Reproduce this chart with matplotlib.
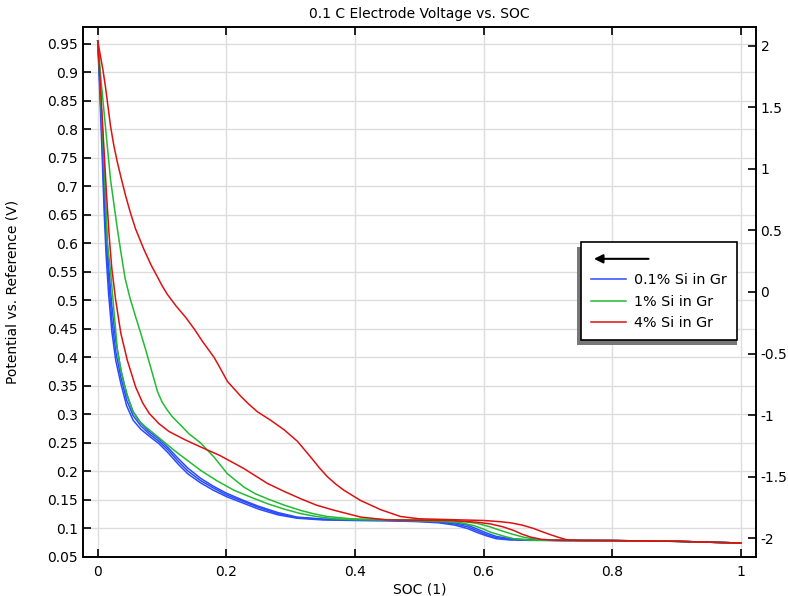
import numpy as np
import matplotlib
matplotlib.use('Agg')
import matplotlib.pyplot as plt
from matplotlib.lines import Line2D
from matplotlib.patches import Rectangle
from matplotlib.ticker import FuncFormatter, MultipleLocator

plt.rcParams['font.family'] = ['DejaVu Sans']
plt.rcParams['font.size'] = 10
plt.rcParams['axes.unicode_minus'] = False

# --- data (SOC, potential V) ---
soc_blue = [0, 0.002, 0.004, 0.007, 0.010, 0.013, 0.017, 0.022, 0.028, 0.036, 0.045, 0.055,
            0.067, 0.08, 0.095, 0.11, 0.125, 0.14, 0.16, 0.18, 0.20, 0.225, 0.25, 0.28, 0.31,
            0.35, 0.40, 0.45, 0.50, 0.53, 0.555, 0.575, 0.59, 0.605, 0.62, 0.64, 0.67, 0.72,
            0.80, 0.90, 1.0]
v_blue1 = [0.955, 0.90, 0.84, 0.75, 0.655, 0.58, 0.51, 0.445, 0.395, 0.354, 0.315, 0.290,
           0.274, 0.262, 0.249, 0.232, 0.213, 0.196, 0.180, 0.167, 0.156, 0.145, 0.134, 0.124,
           0.118, 0.115, 0.114, 0.1135, 0.112, 0.110, 0.106, 0.100, 0.093, 0.087, 0.082, 0.080,
           0.0792, 0.079, 0.0788, 0.0775, 0.0745]
v_blue2 = [0.955, 0.91, 0.86, 0.775, 0.685, 0.61, 0.535, 0.465, 0.41, 0.365, 0.325, 0.298,
           0.280, 0.266, 0.253, 0.237, 0.218, 0.201, 0.184, 0.171, 0.159, 0.148, 0.137, 0.126,
           0.119, 0.116, 0.1145, 0.114, 0.1125, 0.111, 0.108, 0.103, 0.096, 0.089, 0.084, 0.081,
           0.0798, 0.079, 0.0788, 0.0775, 0.0745]
v_blue3 = [0.955, 0.92, 0.875, 0.80, 0.715, 0.64, 0.56, 0.49, 0.43, 0.378, 0.335, 0.305,
           0.285, 0.270, 0.257, 0.241, 0.223, 0.206, 0.188, 0.174, 0.162, 0.150, 0.139, 0.128,
           0.120, 0.1165, 0.115, 0.1145, 0.113, 0.112, 0.110, 0.106, 0.099, 0.092, 0.086, 0.0825,
           0.080, 0.079, 0.0788, 0.0775, 0.0745]

soc_green1 = [0, 0.002, 0.005, 0.0098, 0.015, 0.020, 0.025, 0.0306, 0.036, 0.041, 0.047, 0.054,
              0.063, 0.0747, 0.09, 0.105, 0.12, 0.14, 0.16, 0.185, 0.212, 0.24, 0.264, 0.29,
              0.316, 0.34, 0.3675, 0.40, 0.45, 0.50, 0.54, 0.565, 0.585, 0.60, 0.611, 0.63,
              0.647, 0.673, 0.72, 0.80, 0.90, 1.0]
v_green1 = [0.955, 0.92, 0.85, 0.742, 0.60, 0.55, 0.485, 0.413, 0.378, 0.354, 0.330, 0.307,
            0.29, 0.278, 0.264, 0.250, 0.236, 0.219, 0.202, 0.184, 0.167, 0.154, 0.1435, 0.134,
            0.126, 0.121, 0.117, 0.1155, 0.115, 0.1135, 0.112, 0.110, 0.105, 0.099, 0.0935, 0.087,
            0.082, 0.0795, 0.079, 0.0788, 0.0775, 0.0745]

soc_green2 = [0, 0.002, 0.005, 0.0124, 0.020, 0.0306, 0.036, 0.0425, 0.05, 0.059, 0.067, 0.0747,
              0.084, 0.093, 0.100, 0.108, 0.116, 0.13, 0.142, 0.16, 0.181, 0.2017, 0.2275, 0.245,
              0.264, 0.29, 0.316, 0.335, 0.357, 0.3935, 0.45, 0.50, 0.54, 0.57, 0.59, 0.61,
              0.625, 0.645, 0.665, 0.69, 0.72, 0.80, 0.90, 1.0]
v_green2 = [0.955, 0.93, 0.888, 0.80, 0.711, 0.625, 0.585, 0.539, 0.505, 0.471, 0.442, 0.413,
            0.376, 0.340, 0.322, 0.308, 0.296, 0.280, 0.266, 0.250, 0.225, 0.196, 0.1725, 0.161,
            0.152, 0.141, 0.1316, 0.126, 0.121, 0.117, 0.1155, 0.115, 0.1135, 0.112, 0.109, 0.103,
            0.097, 0.090, 0.084, 0.080, 0.079, 0.0788, 0.0775, 0.0745]

soc_red1 = [0, 0.003, 0.006, 0.010, 0.014, 0.018, 0.022, 0.028, 0.036, 0.046, 0.059, 0.07,
            0.080, 0.095, 0.111, 0.135, 0.160, 0.19, 0.2275, 0.264, 0.29, 0.316, 0.34, 0.3675,
            0.409, 0.45, 0.50, 0.55, 0.59, 0.611, 0.63, 0.647, 0.66, 0.673, 0.69, 0.709, 0.75,
            0.80, 0.90, 1.0]
v_red1 = [0.955, 0.90, 0.84, 0.76, 0.68, 0.61, 0.555, 0.50, 0.442, 0.395, 0.348, 0.32,
          0.302, 0.284, 0.270, 0.256, 0.243, 0.228, 0.205, 0.179, 0.165, 0.152, 0.141, 0.132,
          0.12, 0.115, 0.1145, 0.114, 0.111, 0.108, 0.103, 0.0965, 0.090, 0.085, 0.081, 0.0795,
          0.079, 0.0788, 0.0775, 0.0745]

soc_red2 = [0, 0.004, 0.008, 0.012, 0.016, 0.020, 0.025, 0.0306, 0.037, 0.0435, 0.051, 0.059,
            0.072, 0.083, 0.093, 0.100, 0.108, 0.122, 0.137, 0.15, 0.163, 0.181, 0.19, 0.2017,
            0.2224, 0.235, 0.248, 0.27, 0.290, 0.3105, 0.331, 0.345, 0.357, 0.37, 0.383, 0.409,
            0.440, 0.471, 0.50, 0.55, 0.601, 0.625, 0.642, 0.660, 0.678, 0.692, 0.7045, 0.718,
            0.730, 0.75, 0.80, 0.90, 1.0]
v_red2 = [0.955, 0.93, 0.905, 0.875, 0.84, 0.805, 0.772, 0.742, 0.712, 0.683, 0.653, 0.625,
          0.589, 0.562, 0.541, 0.526, 0.511, 0.49, 0.470, 0.450, 0.428, 0.400, 0.382, 0.358,
          0.332, 0.318, 0.305, 0.289, 0.273, 0.253, 0.2255, 0.206, 0.191, 0.178, 0.167, 0.149,
          0.133, 0.121, 0.117, 0.1155, 0.114, 0.112, 0.110, 0.106, 0.100, 0.094, 0.089, 0.084,
          0.080, 0.079, 0.0788, 0.0775, 0.0745]

labels = ['0.1% Si in Gr', '1% Si in Gr', '4% Si in Gr']
colors = ['#2a4cff', '#22bb33', '#dd1111']

fig = plt.figure(figsize=(7.88, 5.96), dpi=100)
ax = fig.add_axes([83 / 788, 1 - 557 / 596, (755.7 - 83) / 788, (557 - 26.7) / 596])

lw = 1.1
for v in (v_blue1, v_blue2, v_blue3):
    ax.plot(soc_blue, v, color=colors[0], lw=lw)
ax.plot(soc_green1, v_green1, color=colors[1], lw=lw)
ax.plot(soc_green2, v_green2, color=colors[1], lw=lw)
ax.plot(soc_red1, v_red1, color=colors[2], lw=lw)
ax.plot(soc_red2, v_red2, color=colors[2], lw=lw)

ax.set_xlim(-0.0229, 1.0233)
ax.set_ylim(0.05, 0.98)
ax.xaxis.set_major_locator(MultipleLocator(0.2))
ax.yaxis.set_major_locator(MultipleLocator(0.05))
fmt = FuncFormatter(lambda v, p: '%g' % round(v, 3))
ax.xaxis.set_major_formatter(fmt)
ax.yaxis.set_major_formatter(fmt)
ax.grid(True, color='#dddddd', lw=1)
ax.set_axisbelow(True)
ax.tick_params(axis='x', direction='in', top=True, length=6, width=1.2, pad=6)
ax.tick_params(axis='y', direction='in', right=False, length=6, width=1.2)
for s in ax.spines.values():
    s.set_linewidth(1.2)

ax.set_title('0.1 C Electrode Voltage vs. SOC', fontsize=10)
ax.set_xlabel('SOC (1)', labelpad=2)
ax.set_ylabel('Potential vs. Reference (V)', labelpad=20)

ax2 = ax.twinx()
ax2.set_ylim(-2.152, 2.154)
ax2.yaxis.set_major_locator(MultipleLocator(0.5))
ax2.yaxis.set_major_formatter(fmt)
ax2.tick_params(axis='y', direction='in', length=6, width=1.2)
for s in ax2.spines.values():
    s.set_linewidth(1.2)

# legend with arrow row on top
handles = [Line2D([], [], color='none')] + [Line2D([], [], color=c, lw=lw) for c in colors]
leg = ax2.legend(handles, [' '] + labels, loc='upper left', fontsize=10.3,
                 bbox_to_anchor=(581 / 788, 1 - 241.7 / 596), bbox_transform=fig.transFigure,
                 borderaxespad=0, fancybox=False, framealpha=1, edgecolor='black',
                 handlelength=2.4, handletextpad=0.6, labelspacing=0.51, borderpad=0.72)
leg.get_frame().set_linewidth(1.2)
leg.set_zorder(10)

fig.canvas.draw()
bb = leg.get_window_extent()
shadow = Rectangle((bb.x0 - 4, bb.y0 - 5), bb.width + 4, bb.height, transform=None,
                   facecolor='#777777', edgecolor='none', zorder=9)
ax2.add_artist(shadow)
shadow.set_clip_on(False)
ax2.annotate('', xy=(0.065, 0.826), xytext=(0.45, 0.826), xycoords=leg, textcoords=leg,
             arrowprops=dict(arrowstyle='-|>', color='black', lw=1.5, mutation_scale=13),
             zorder=11)

fig.savefig('out.png', dpi=100)
